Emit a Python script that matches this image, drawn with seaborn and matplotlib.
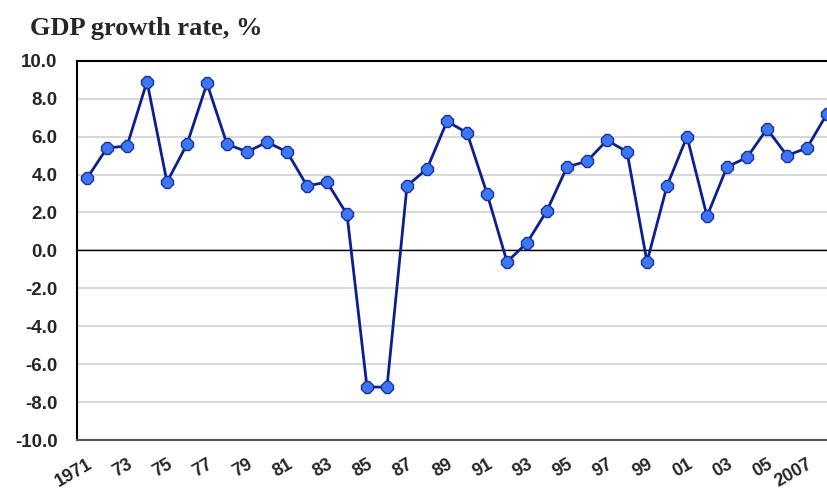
import numpy as np
import pandas as pd
import matplotlib
matplotlib.use('Agg')
import matplotlib.pyplot as plt
import seaborn as sns

# GDP growth, % (1971-2008)
years = list(range(1971, 2009))
growth = [3.8, 5.4, 5.5, 8.9, 3.6, 5.6, 8.8, 5.6, 5.2, 5.7,
          5.2, 3.4, 3.6, 1.9, -7.2, -7.2, 3.4, 4.3, 6.8, 6.2,
          3.0, -0.6, 0.4, 2.1, 4.4, 4.7, 5.8, 5.2, -0.6, 3.4,
          6.0, 1.8, 4.4, 4.9, 6.4, 5.0, 5.4, 7.2]
tick_years = list(range(1971, 2008, 2))
tick_labels = ['1971', '73', '75', '77', '79', '81', '83', '85', '87', '89',
               '91', '93', '95', '97', '99', '01', '03', '05', '2007']

df = pd.DataFrame({'year': years, 'growth': growth})

sns.set_style('white')
plt.rcParams['font.family'] = ['Liberation Sans', 'DejaVu Sans']

fig = plt.figure(figsize=(8.28, 4.93), dpi=100)
ax = fig.add_axes([0.093, 0.107, 0.907, 0.770])

ax.set_yticks(np.arange(-10, 10.1, 2))
ax.yaxis.grid(True, color='#d9d9d9', linewidth=1.5)
ax.set_axisbelow(True)
ax.axhline(0, color='black', linewidth=1, zorder=1)

sns.lineplot(data=df, x='year', y='growth', ax=ax, color='#0c1f8f', linewidth=2,
             marker='8', markersize=9, markerfacecolor='#3b78f5',
             markeredgecolor='#1a2fa0', markeredgewidth=1, zorder=3)

ax.set_xlim(1970.5, 2008.05)
ax.set_ylim(-10, 10)
ax.set_xticks(tick_years)
ax.set_xticklabels(tick_labels, rotation=30, ha='right', rotation_mode='anchor',
                   fontsize=13, fontweight='bold')
ax.set_yticklabels([f'{v:.1f}' for v in np.arange(-10, 10.1, 2)],
                   fontsize=13.5, fontweight='bold')
ax.tick_params(axis='y', length=0, pad=14)
ax.tick_params(axis='x', length=0, pad=11)
ax.set_xlabel('')
ax.set_ylabel('')

for side in ['top', 'left']:
    ax.spines[side].set_color('black')
    ax.spines[side].set_linewidth(1.5)
ax.spines['bottom'].set_color('#555555')
ax.spines['bottom'].set_linewidth(1.5)
ax.spines['right'].set_visible(False)

fig.text(30 / 828, 1 - 35 / 493, 'GDP growth rate, %', family='Liberation Serif',
         fontsize=19, fontweight='bold', va='baseline', ha='left')

fig.savefig('out.png', dpi=100)
